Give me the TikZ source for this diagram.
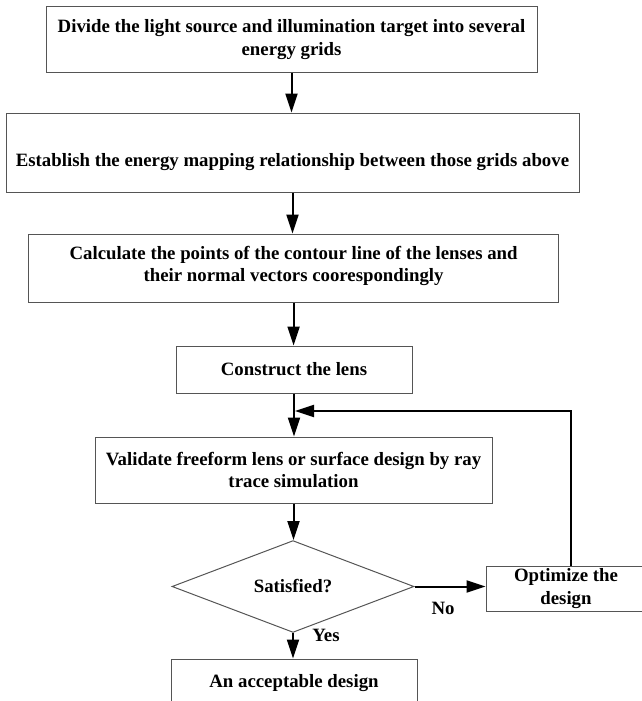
\documentclass[tikz,border=0pt]{standalone}
\usepackage{fontspec}
\setmainfont{Liberation Serif}
\usetikzlibrary{shapes.geometric,arrows.meta}
\definecolor{boxgray}{RGB}{85,85,85}
\begin{document}
\begin{tikzpicture}[x=1pt,y=-1pt,
  box/.style={draw=boxgray, line width=1pt, rectangle, align=center, inner sep=0pt,
    font=\fontsize{18.8}{22.5}\selectfont\bfseries},
  arr/.style={line width=2pt, -{Triangle[length=19pt,width=12pt]}},
  lbl/.style={font=\fontsize{18.8}{22.5}\selectfont\bfseries, inner sep=0pt}]
\useasboundingbox (0,0) rectangle (642,701);
\clip (0,0) rectangle (642,701);
\node[box, minimum width=491pt, minimum height=65pt] (b1) at (291.5,39.5)
  {Divide the light source and illumination target into several\\energy grids};
\node[box, minimum width=573pt, minimum height=79pt] (b2) at (292.5,152.5)
  {\raisebox{-10pt}[\height][\depth]{Establish the energy mapping relationship between those grids above}};
\node[box, minimum width=530pt, minimum height=68pt] (b3) at (293.6,268)
  {\raisebox{2pt}[\height][\depth]{\begin{tabular}{@{}c@{}}Calculate the points of the contour line of the lenses and\\their normal vectors coorespondingly\end{tabular}}};
\node[box, minimum width=236pt, minimum height=47pt] (b4) at (294,369.5) {Construct the lens};
\node[box, minimum width=397pt, minimum height=66pt] (b5) at (293.5,470)
  {Validate freeform lens or surface design by ray\\trace simulation};
\node[box, diamond, minimum width=242pt, minimum height=71pt] (d) at (293,586.5) {Satisfied?};
\node[box, minimum width=160pt, minimum height=45pt] (opt) at (566,588.5) {Optimize the\\design};
\node[box, minimum width=246pt, minimum height=48pt] (fin) at (294,683) {An acceptable design};
\coordinate (fb) at (571,411);
\draw[arr] (b1.south) -- (b1.south |- b2.north);
\draw[arr] (b2.south) -- (b2.south |- b3.north);
\draw[arr] (b3.south) -- (b3.south |- b4.north);
\draw[arr] (b4.south) -- (b4.south |- b5.north);
\draw[arr] (b5.south) -- (b5.south |- d.north);
\draw[arr] (d.east) -- (opt.west |- d.east);
\draw[arr] (d.south) -- (d.south |- fin.north);
\draw[arr, shorten >=1pt] (opt.north -| fb) -- (fb) -- (b4.south |- fb);
\node[lbl] (no) at (443,608) {No};
\node[lbl] (yes) at (326,635) {Yes};
\end{tikzpicture}
\end{document}
